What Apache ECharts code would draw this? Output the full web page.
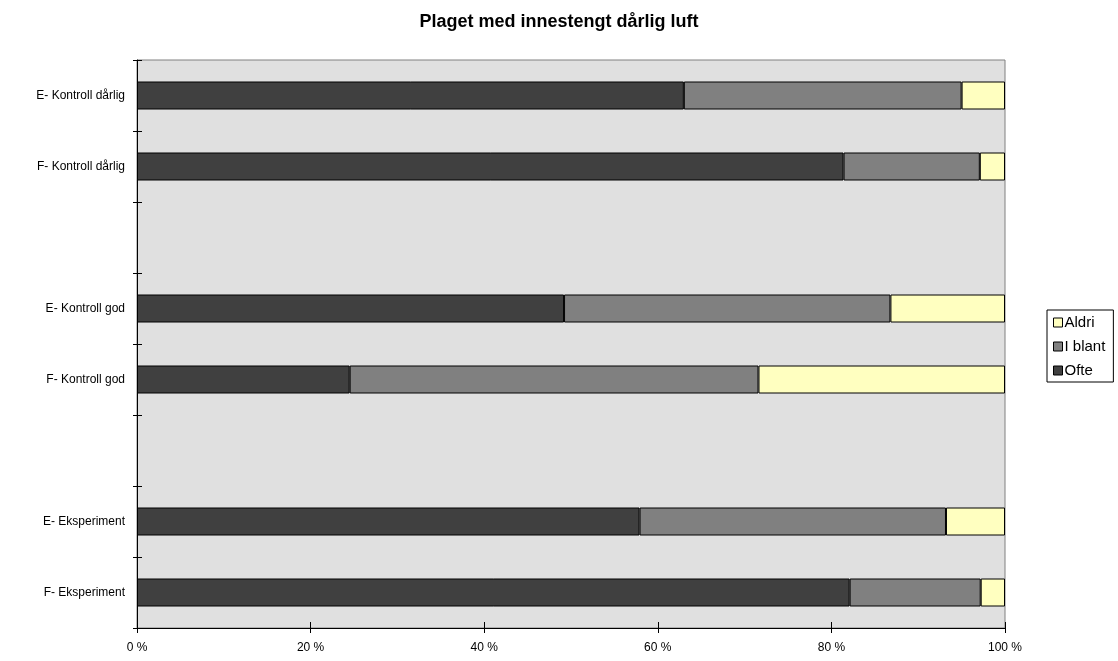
<!DOCTYPE html>
<html>
<head>
<meta charset="utf-8">
<script src="https://cdn.jsdelivr.net/npm/echarts@6/dist/echarts.min.js"></script>
<style>
  html, body { margin: 0; padding: 0; background: #fff; }
  #chart { width: 1118px; height: 661px; }
</style>
</head>
<body>
<div id="chart"></div>
<script>
// kategorier nedenfra og opp (tomme plasser gir mellomrom)
var categories = ['F- Eksperiment', 'E- Eksperiment', ' ', 'F- Kontroll god', 'E- Kontroll god', '  ', 'F- Kontroll dårlig', 'E- Kontroll dårlig'];
var ofte   = [82.1, 57.9, null, 24.5, 49.2, null, 81.4, 63.0];
var iBlant = [15.1, 35.3, null, 47.1, 37.6, null, 15.7, 32.0];
var aldri  = [2.8,  6.8,  null, 28.4, 13.2, null, 2.9,  5.0];
var xTicks = [0, 20, 40, 60, 80, 100];

var chart = echarts.init(document.getElementById('chart'));

var fontBase = { fontFamily: 'Liberation Sans, Arial, sans-serif', fontSize: 12, color: '#000' };

function bar(name, data, color) {
  return {
    name: name,
    type: 'bar',
    stack: 'sum',
    barWidth: 28,
    data: data,
    itemStyle: { color: color, borderColor: '#000', borderWidth: 1 },
    emphasis: { disabled: true }
  };
}

var option = {
  animation: false,
  title: {
    text: 'Plaget med innestengt dårlig luft',
    left: 'center',
    top: 8,
    textStyle: { fontFamily: 'Liberation Sans, Arial, sans-serif', fontSize: 18, fontWeight: 'bold', color: '#000' }
  },
  legend: {
    orient: 'vertical',
    left: 1047,
    top: 310,
    data: ['Aldri', 'I blant', 'Ofte'],
    itemWidth: 9,
    itemHeight: 9,
    itemGap: 9,
    padding: [5, 8, 4, 6],
    borderColor: '#000',
    borderWidth: 1,
    icon: 'rect',
    textStyle: { fontFamily: 'Liberation Sans, Arial, sans-serif', fontSize: 15, color: '#000', padding: [0, 0, 0, -3] },
    itemStyle: { borderColor: '#000', borderWidth: 1 }
  },
  grid: {
    left: 137, right: 113, top: 60, bottom: 33,
    show: true,
    backgroundColor: '#e0e0e0',
    borderColor: '#808080',
    borderWidth: 1
  },
  xAxis: [{
    type: 'value',
    min: xTicks[0], max: xTicks[xTicks.length - 1], interval: 20,
    axisLine: { show: true, lineStyle: { color: '#000' } },
    axisTick: { show: true, length: 5, lineStyle: { color: '#000' } },
    axisLabel: { margin: 14, formatter: '{value} %', ...fontBase },
    splitLine: { show: false }
  }, {
    type: 'value',
    position: 'bottom',
    min: xTicks[0], max: xTicks[xTicks.length - 1], interval: 20,
    axisLine: { show: false },
    axisTick: { show: true, inside: true, length: 6, lineStyle: { color: '#000' } },
    axisLabel: { show: false },
    splitLine: { show: false }
  }],
  yAxis: [{
    type: 'category',
    data: categories,
    axisLine: { show: true, lineStyle: { color: '#000' } },
    axisTick: { show: true, length: 4, lineStyle: { color: '#000' } },
    axisLabel: { margin: 12, ...fontBase },
    splitLine: { show: false }
  }, {
    type: 'category',
    position: 'left',
    data: categories,
    axisLine: { show: false },
    axisTick: { show: true, inside: true, length: 5, lineStyle: { color: '#000' } },
    axisLabel: { show: false },
    splitLine: { show: false }
  }],
  series: [
    bar('Ofte', ofte, '#404040'),
    bar('I blant', iBlant, '#808080'),
    bar('Aldri', aldri, '#ffffc0')
  ]
};

chart.setOption(option);
</script>
</body>
</html>
